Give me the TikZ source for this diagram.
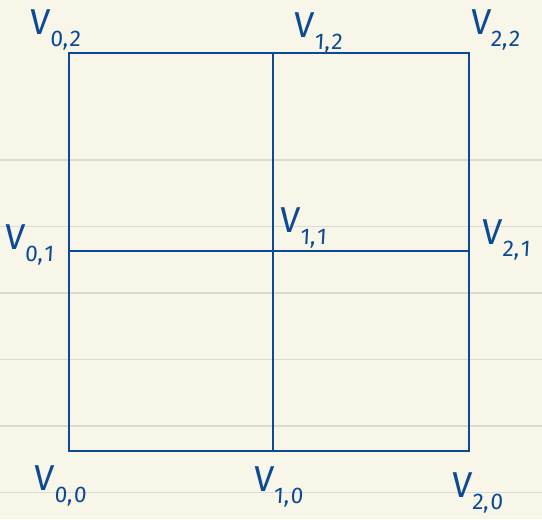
\documentclass[tikz,border=0pt]{standalone}
\usepackage{fontspec}
\setmainfont{Fira Sans}
\usepackage{xcolor}
\definecolor{paper}{HTML}{F8F6E9}
\definecolor{rule}{HTML}{DADAD7}
\definecolor{ink}{HTML}{0D4A94}
\newcommand{\vsub}[2]{V\kern0.5pt\raisebox{-0.32em}{\fontsize{17}{20}\selectfont #1,\kern1pt#2}}
\tikzset{
  vlabel/.style={ink,font=\fontsize{27}{30}\selectfont\addfontfeature{FakeSlant=0.06},inner sep=0pt},
  grid/.style={ink,line width=2.2pt}
}

\begin{document}
\begin{tikzpicture}[x=0.75pt,y=-0.75pt]
          \fill[paper] (0,0) rectangle (542,519);
          \useasboundingbox (0,0) rectangle (542,519);
          % notebook lines
          \foreach \y in {160,226.5,293,359.5,426,492.5}
            \draw[rule,line width=1.1pt] (0,\y) -- (542,\y);
          % grid
          \coordinate (sw) at (69,451);
          \coordinate (ne) at (469,53);
          \coordinate (nm) at (273,53);
          \coordinate (sm) at (273,451);
          \coordinate (wm) at (69,251);
          \coordinate (em) at (469,251);
          \draw[grid] (sw) rectangle (ne);
          \draw[grid] (nm) -- (sm);
          \draw[grid] (wm) -- (em);
          % labels
          \node[vlabel] (v02) at (55,30) {\vsub{0}{2}};
          \node[vlabel] (v12) at (318,33) {\vsub{1}{2}};
          \node[vlabel] (v22) at (495,30) {\vsub{2}{2}};
          \node[vlabel] (v01) at (29,245) {\vsub{0}{1}};
          \node[vlabel] (v11) at (303,228) {\vsub{1}{1}};
          \node[vlabel] (v21) at (506,240) {\vsub{2}{1}};
          \node[vlabel] (v00) at (60,486) {\vsub{0}{0}};
          \node[vlabel] (v10) at (278,487) {\vsub{1}{0}};
          \node[vlabel] (v20) at (477,493) {\vsub{2}{0}};
\end{tikzpicture}
\end{document}
